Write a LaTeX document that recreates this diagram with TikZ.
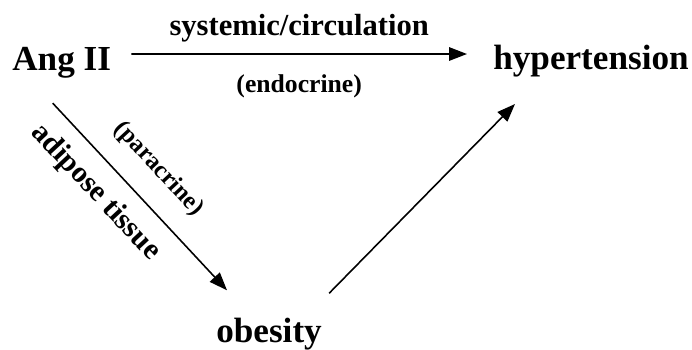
\documentclass[tikz,border=0pt]{standalone}
\usepackage{fontspec}
\setmainfont{Liberation Serif}
\usetikzlibrary{arrows.meta, positioning}

\begin{document}
\begin{tikzpicture}[
    term/.style={inner sep=0pt, font=\fontsize{20}{24}\selectfont\bfseries},
    lbl/.style={inner sep=0pt, font=\fontsize{14}{16}\selectfont\bfseries},
    arrow/.style={line width=0.9pt, -{Triangle[length=3.6mm, width=2.7mm]}}
]
\useasboundingbox (0,0) rectangle (13.84,-6.98);

\node (ang) [term, anchor=base west] at (0.24,-1.40) {Ang II};
\node (hyp) [term, anchor=base west] at (9.86,-1.38) {hypertension};
\node (obe) [term, anchor=base west] at (4.32,-6.84) {obesity};

\draw [arrow] ([xshift=0.4cm, yshift=0.32cm]ang.base east) -- ([xshift=-0.52cm, yshift=0.3cm]hyp.base west)
    node[midway, above=0.22cm, lbl, font=\fontsize{17.4}{19}\selectfont\bfseries] {systemic/circulation}
    node[midway, below=0.4cm, lbl, font=\fontsize{14.6}{16}\selectfont\bfseries] {(endocrine)};
\draw [arrow] ([xshift=-0.18cm, yshift=-0.5cm]ang.south) -- ([xshift=0.22cm, yshift=0.54cm]obe.north west)
    node[pos=0.47, above=0.42cm, sloped, lbl] {(paracrine)}
    node[pos=0.37, below=0.3cm, sloped, lbl, font=\fontsize{17}{19}\selectfont\bfseries] {adipose tissue};
\draw [arrow] ([xshift=0.14cm, yshift=0.48cm]obe.north east) -- ([xshift=0.44cm, yshift=-0.7cm]hyp.base west);

\end{tikzpicture}
\end{document}
